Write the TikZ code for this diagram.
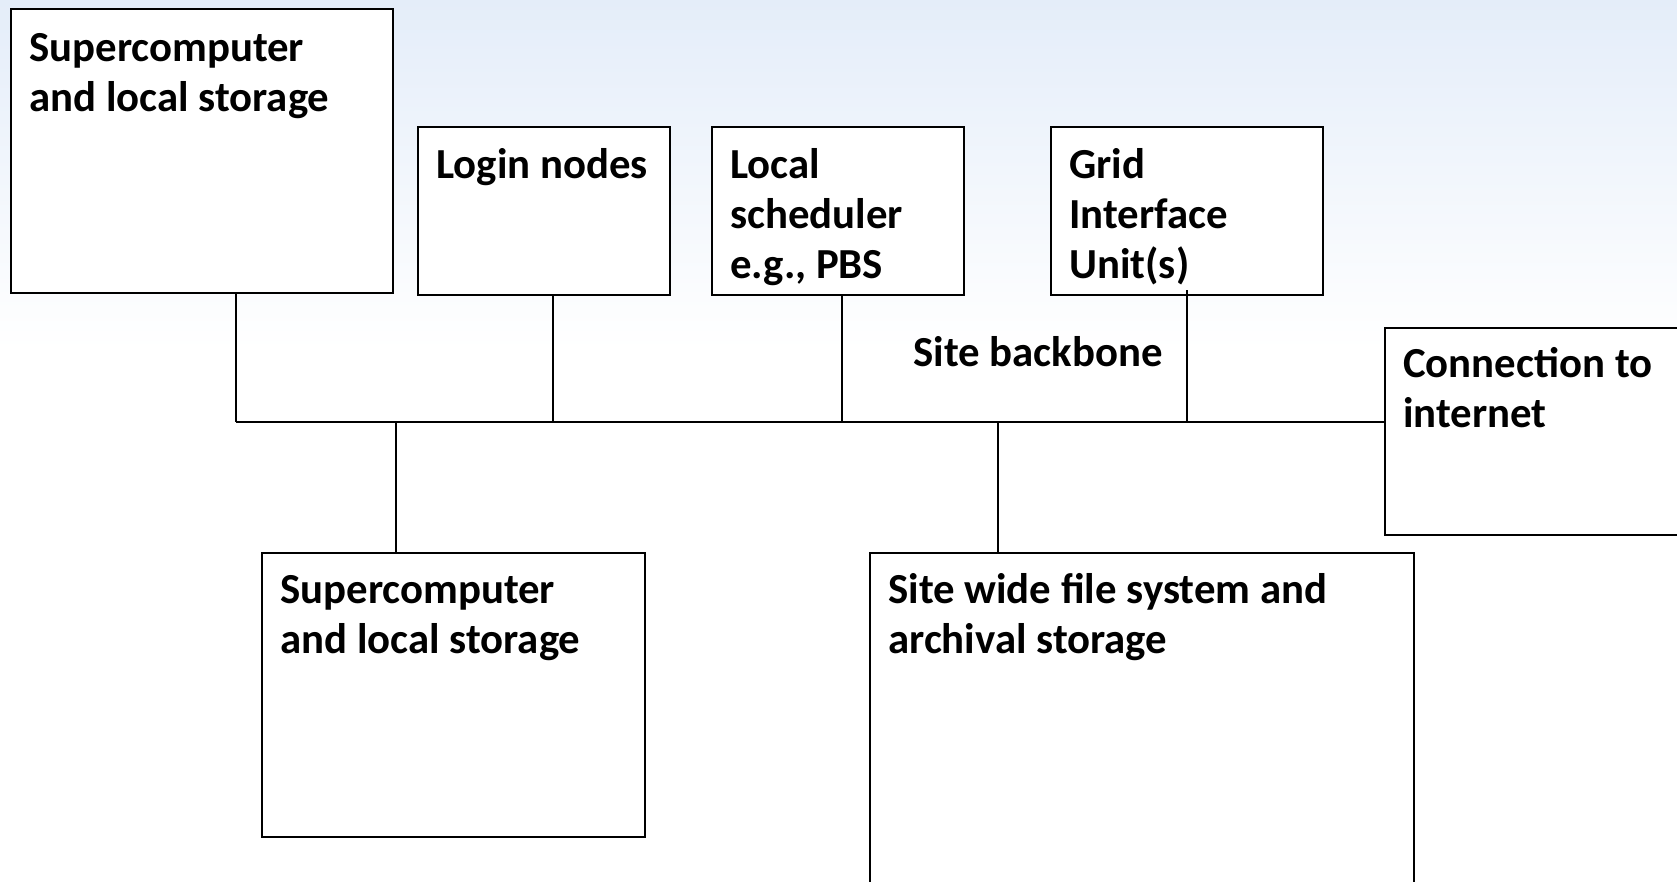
\documentclass[tikz,border=0pt]{standalone}
\usepackage{fontspec}
\setmainfont{Carlito}
\usetikzlibrary{fit,calc}
\definecolor{skytop}{RGB}{228,237,249}
\tikzset{
  unitbox/.style={draw=black, line width=1.1pt, fill=white, inner sep=0pt, rectangle},
  boxtext/.style={anchor=base west, inner sep=0pt, align=flush left, text width=#1,
    font=\fontsize{21.4pt}{25pt}\selectfont\bfseries},
  boxtext/.default=180pt,
  freetext/.style={anchor=base west, inner sep=0pt,
    font=\fontsize{21.4pt}{25pt}\selectfont\bfseries},
  link/.style={draw=black, line width=0.9pt}
}
\begin{document}
\begin{tikzpicture}[x=0.5pt,y=-0.5pt]
\useasboundingbox (0,0) rectangle (1677,882);
\clip (0,0) rectangle (1677,882);
% backdrop
\shade[top color=skytop, bottom color=white] (0,0) rectangle (1677,350);
\fill[white] (0,349) rectangle (1677,882);

% machines and services
\node[unitbox, fit={(11,9) (393,293)}] (super1) {};
\node[unitbox, fit={(418,127) (670,295)}] (login) {};
\node[unitbox, fit={(712,127) (964,295)}] (sched) {};
\node[unitbox, fit={(1051,127) (1323,295)}] (grid) {};
\node[unitbox, fit={(1385,328) (1720,535)}] (inet) {};
\node[unitbox, fit={(262,553) (645,837)}] (super2) {};
\node[unitbox, fit={(870,553) (1414,920)}] (files) {};

% labels
\node[boxtext] at ([shift={(19,54)}]super1.north west) {Supercomputer\\and local storage};
\node[boxtext] at ([shift={(19,53)}]login.north west) {Login nodes};
\node[boxtext] at ([shift={(19,53)}]sched.north west) {Local\\scheduler\\e.g., PBS};
\node[boxtext] at ([shift={(19,53)}]grid.north west) {Grid\\Interface\\Unit(s)};
\node[boxtext] at ([shift={(19,51)}]inet.north west) {Connection to\\internet};
\node[boxtext] at ([shift={(19,52)}]super2.north west) {Supercomputer\\and local storage};
\node[boxtext=300pt] at ([shift={(19,52)}]files.north west) {Site wide file system and\\archival storage};
\node[freetext] (bblabel) at (913,367) {Site backbone};

% taps on the backbone
\coordinate (tapA) at (236,422);
\coordinate (tapB) at (553,422);
\coordinate (tapC) at (842,422);
\coordinate (tapD) at (1187,422);
\coordinate (tapE) at (396,422);
\coordinate (tapF) at (998,422);

% backbone
\draw[link] (tapA) -- (inet.west |- tapA);
% drops from the upper row
\draw[link] (super1.south -| tapA) -- (tapA);
\draw[link] (login.south -| tapB) -- (tapB);
\draw[link] (sched.south -| tapC) -- (tapC);
\draw[link] ([yshift=3pt]grid.south -| tapD) -- (tapD);
% drops to the lower row
\draw[link] (tapE) -- (super2.north -| tapE);
\draw[link] (tapF) -- (files.north -| tapF);
\end{tikzpicture}
\end{document}
